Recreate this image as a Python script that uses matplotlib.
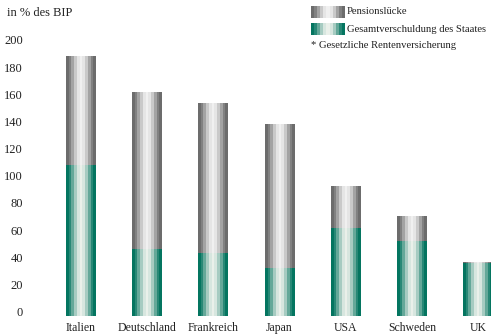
import matplotlib.pyplot as plt
import numpy as np
from matplotlib.colors import LinearSegmentedColormap

# Werte in % des BIP
laender = ['Italien', 'Deutschland', 'Frankreich', 'Japan', 'USA', 'Schweden', 'UK']
gesamt = [191, 164, 157, 141, 95, 73, 39.5]          # Pensionslücke + Staatsschuld
schulden = [111, 49, 46, 35, 64.5, 55, 38.5]          # Gesamtverschuldung des Staates
yticks = [0, 20, 40, 60, 80, 100, 120, 140, 160, 180, 200]

plt.rcParams['font.family'] = ['Liberation Serif', 'DejaVu Serif']

W, H = 491, 336
fig = plt.figure(figsize=(W / 100, H / 100), dpi=100)

# axes placement in pixels
left_px, right_px = 30, 491
base_px, top_px = 316, 44.5
ax = fig.add_axes([left_px / W, (H - base_px) / H,
                   (right_px - left_px) / W, (base_px - top_px) / H])

step, x0 = 66.2, 81

gray_cm = LinearSegmentedColormap.from_list('g', ['#6a6a6a', '#f0f0f0'])
green_cm = LinearSegmentedColormap.from_list('t', ['#00735e', '#eaf0ea'])

# banded horizontal gradient: dark at edges, light in the middle
n = 11
t = (np.arange(n) + 0.5) / n
prof = (0.5 - 0.5 * np.cos(2 * np.pi * t))[None, :]

bw = 0.453
for i, name in enumerate(laender):
    ax.imshow(prof, extent=[i - bw / 2, i + bw / 2, schulden[i], gesamt[i]],
              cmap=gray_cm, vmin=0, vmax=1, aspect='auto', interpolation='nearest')
    ax.imshow(prof, extent=[i - bw / 2, i + bw / 2, 0, schulden[i]],
              cmap=green_cm, vmin=0, vmax=1, aspect='auto', interpolation='nearest')

ax.set_xlim((left_px - x0) / step, (right_px - x0) / step)
ax.set_ylim(0, 200)

ax.set_xticks(range(len(laender)))
ax.set_xticklabels(laender, fontsize=8.5, color='#222222')
ax.set_yticks(yticks)
ax.set_yticklabels([str(v) for v in yticks], fontsize=9, color='#222222')
for lab in ax.get_yticklabels():
    lab.set_va('baseline')
ax.tick_params(axis='both', length=0)
ax.tick_params(axis='y', pad=5)
ax.tick_params(axis='x', pad=4)
for s in ax.spines.values():
    s.set_visible(False)

fig.text(7 / W, 1 - 13 / H, 'in % des BIP', fontsize=9, va='center', ha='left',
         color='#222222')

# legend swatches
for yc, cm in [(12, gray_cm), (29, green_cm)]:
    sw = fig.add_axes([311 / W, 1 - (yc + 6) / H, 34 / W, 12 / H])
    sw.imshow(prof, cmap=cm, vmin=0, vmax=1, aspect='auto', interpolation='nearest')
    sw.axis('off')
fig.text(347 / W, 1 - 12 / H, 'Pensionslücke', fontsize=7.7, va='center', color='#222222')
fig.text(347 / W, 1 - 29 / H, 'Gesamtverschuldung des Staates', fontsize=7.7,
         va='center', color='#222222')
fig.text(311 / W, 1 - 46 / H, '* Gesetzliche Rentenversicherung', fontsize=7.7,
         va='center', color='#222222')

fig.savefig('out.png', dpi=100)
